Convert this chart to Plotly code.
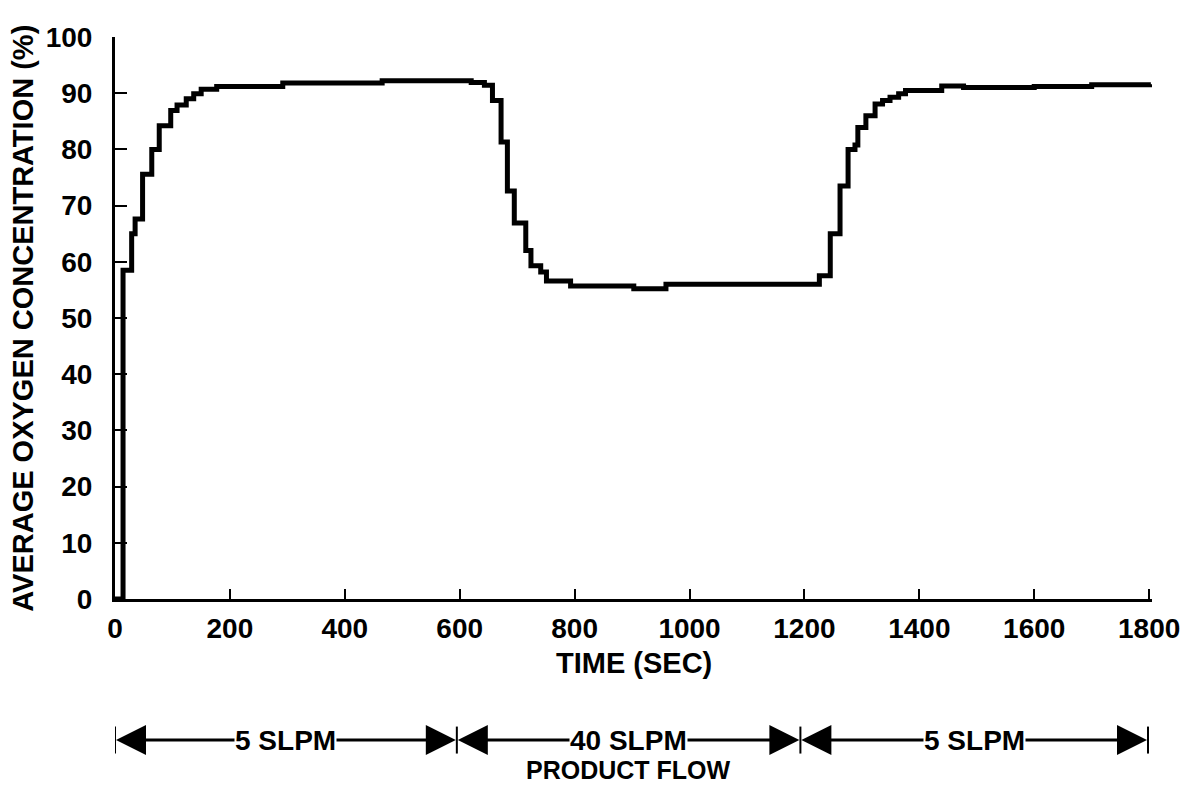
import plotly.graph_objects as go

# ---- data ----
time_sec = [0, 14, 29, 35, 48, 64, 77, 97, 108, 124, 137, 150, 177, 292, 465,
            620, 643, 657, 672, 683, 695, 715, 724, 741, 751, 793, 903, 959,
            1226, 1245, 1262, 1276, 1288, 1293, 1307, 1323, 1336, 1349, 1364,
            1376, 1439, 1477, 1600, 1700, 1803]
oxygen_pct = [0, 58.5, 65.0, 67.6, 75.6, 80.0, 84.2, 86.9, 87.9, 89.0, 89.9, 90.7,
              91.2, 91.8, 92.2, 91.9, 91.4, 88.7, 81.3, 72.6, 66.9, 62.0, 59.3,
              58.2, 56.6, 55.7, 55.2, 56.0, 57.5, 65.0, 73.5, 80.0, 80.8, 83.9,
              86.0, 88.1, 88.7, 89.3, 89.9, 90.5, 91.3, 91.0, 91.2, 91.5, 91.6]

x_ticks = [0, 200, 400, 600, 800, 1000, 1200, 1400, 1600, 1800]
y_ticks = [0, 10, 20, 30, 40, 50, 60, 70, 80, 90, 100]

flow_bounds = [0, 595, 1193, 1798]
flow_labels = ["5 SLPM", "40 SLPM", "5 SLPM"]

FONT = "Liberation Sans"

fig = go.Figure()
fig.add_trace(go.Scatter(
    x=time_sec, y=oxygen_pct, mode="lines", line_shape="hv",
    line=dict(color="black", width=5), showlegend=False, hoverinfo="skip"))

fig.update_layout(
    width=1185, height=785,
    margin=dict(l=115, r=33, t=37, b=186, autoexpand=False),
    paper_bgcolor="white", plot_bgcolor="white",
    font=dict(family=FONT, color="black"),
)
fig.update_xaxes(
    range=[0, 1805], tickvals=x_ticks, ticktext=[str(v) for v in x_ticks],
    showgrid=False, zeroline=False, showline=True, linecolor="black", linewidth=3,
    ticks="inside", ticklen=10, tickwidth=2, tickcolor="black", automargin=False,
    tickfont=dict(family=FONT, size=28, weight="bold", color="black"),
    ticklabelstandoff=2,
)
fig.update_yaxes(
    range=[0, 100], tickvals=y_ticks, ticktext=[str(v) for v in y_ticks],
    showgrid=False, zeroline=False, showline=True, linecolor="black", linewidth=3,
    ticks="inside", ticklen=12, tickwidth=2, tickcolor="black", automargin=False,
    tickfont=dict(family=FONT, size=28, weight="bold", color="black"),
    ticklabelstandoff=14,
)

annotations = []
# axis titles
annotations.append(dict(text="AVERAGE OXYGEN CONCENTRATION (%)", xref="paper", yref="paper",
                        x=-0.089, y=0.5, textangle=-90, showarrow=False,
                        xanchor="center", yanchor="middle",
                        font=dict(family=FONT, size=29, weight="bold", color="black")))
annotations.append(dict(text="TIME (SEC)", xref="paper", yref="paper",
                        x=0.5, y=-0.114, showarrow=False, xanchor="center", yanchor="middle",
                        font=dict(family=FONT, size=29, weight="bold", color="black")))

arrow_y = -0.251
shapes = []
for b in flow_bounds:
    shapes.append(dict(type="line", xref="x", yref="paper", x0=b, x1=b,
                       y0=arrow_y + 0.024, y1=arrow_y - 0.024,
                       line=dict(color="black", width=2)))

for i, lab in enumerate(flow_labels):
    a, b = flow_bounds[i], flow_bounds[i + 1]
    mid = (a + b) / 2
    for end in (a, b):
        annotations.append(dict(text="", x=end, y=arrow_y, xref="x", yref="paper",
                                ax=mid, ay=0, axref="x", showarrow=True,
                                arrowhead=2, arrowsize=2, arrowwidth=3,
                                arrowcolor="black", standoff=1))
for i, lab in enumerate(flow_labels):
    a, b = flow_bounds[i], flow_bounds[i + 1]
    mid = (a + b) / 2
    annotations.append(dict(text=lab, x=mid, y=arrow_y, xref="x", yref="paper",
                            showarrow=False, bgcolor="white", borderpad=0,
                            xanchor="center", yanchor="middle",
                            font=dict(family=FONT, size=28, weight="bold", color="black")))

annotations.append(dict(text="PRODUCT FLOW", x=(flow_bounds[1] + flow_bounds[2]) / 2,
                        y=-0.304, xref="x", yref="paper", showarrow=False,
                        xanchor="center", yanchor="middle",
                        font=dict(family=FONT, size=25, weight="bold", color="black")))

fig.update_layout(annotations=annotations, shapes=shapes)
# remove the default 8px page margin so the figure fills the 1185x785 window exactly
fig.write_html("out.html", config={"displayModeBar": False},
               post_script="document.body.style.margin='0';document.body.style.overflow='hidden';")
